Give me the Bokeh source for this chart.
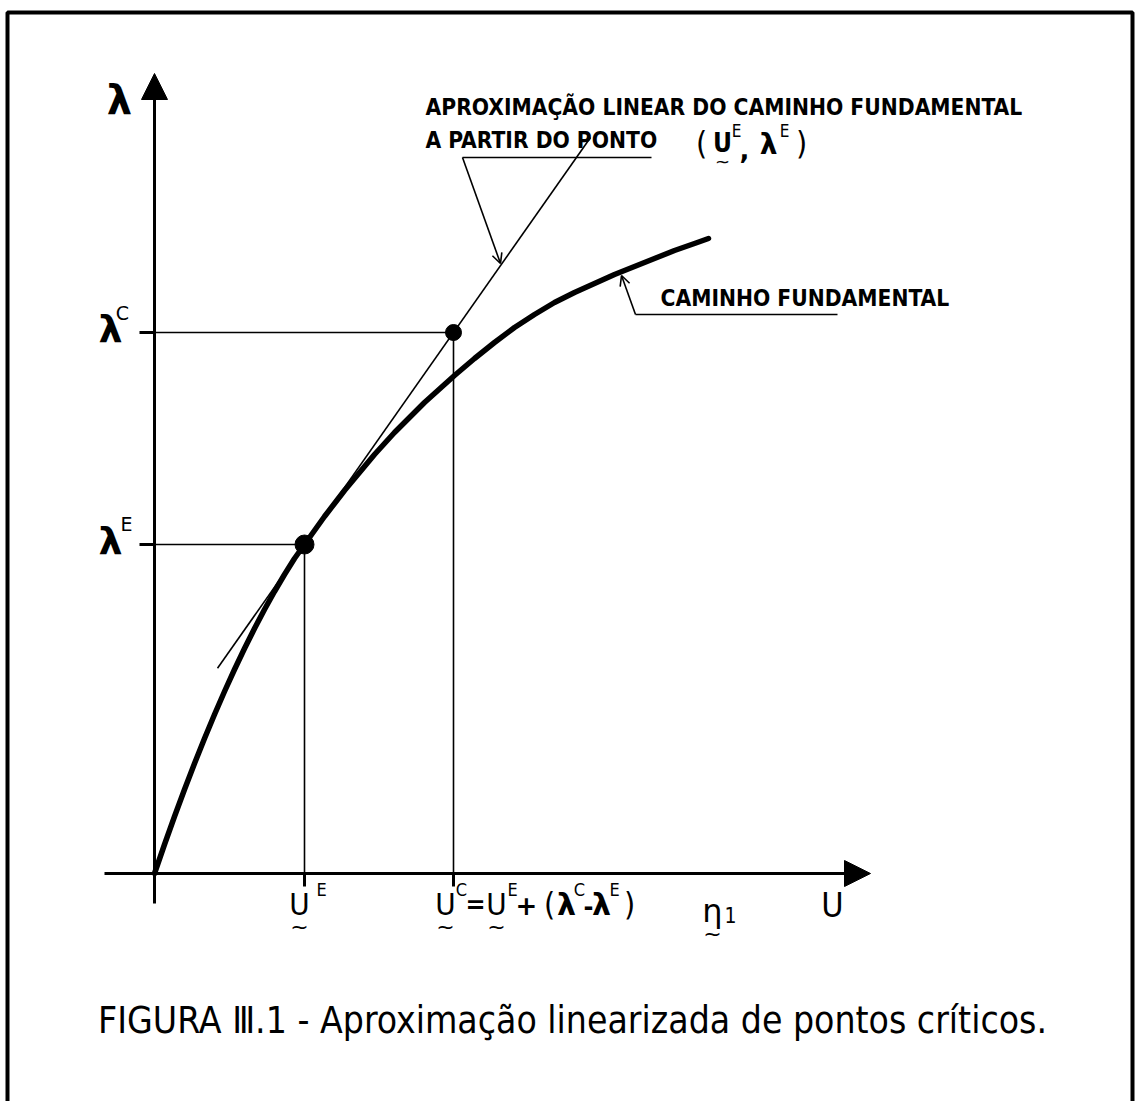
from bokeh.plotting import figure
from bokeh.models import Range1d, Arrow, NormalHead, OpenHead
from bokeh.core.properties import value
from bokeh.embed import file_html
from bokeh.resources import INLINE

# Fundamental equilibrium path, load factor lambda against displacement U
path_u = [0.00, 0.10, 0.20, 0.30, 0.40, 0.50, 0.60, 0.70, 0.80, 0.90, 1.00,
          1.10, 1.20, 1.30, 1.40, 1.50, 1.60, 1.70, 1.80, 1.90, 2.00, 2.10,
          2.20, 2.30, 2.40, 2.50, 2.60, 2.70, 2.80, 2.90, 3.00, 3.20, 3.40,
          3.60, 3.80, 4.00, 4.20, 4.40, 4.60, 4.80, 5.00, 5.20, 5.40, 5.54]
path_lam = [0.00, 0.29, 0.57, 0.84, 1.10, 1.35, 1.59, 1.82, 2.04, 2.25, 2.45,
            2.64, 2.82, 2.99, 3.15, 3.29, 3.43, 3.57, 3.70, 3.83, 3.95, 4.07,
            4.19, 4.30, 4.41, 4.51, 4.61, 4.71, 4.80, 4.89, 4.98, 5.15, 5.31,
            5.46, 5.59, 5.71, 5.81, 5.90, 5.99, 6.07, 6.15, 6.23, 6.30, 6.35]

# Reference point E on the path and the estimated critical point C
U_E, LAM_E = 1.50, 3.29
U_C, LAM_C = 2.99, 5.41

# Extent of the linear approximation (straight line through E and C)
tangent_u = [0.63, 4.36]

# Axis extents
u_axis = [-0.50, 7.16]
lam_axis = [-0.30, 8.00]

FONT = "DejaVu Sans"
COND = "DejaVu Sans Condensed"
INK = "black"

p = figure(width=1139, height=1101, x_range=Range1d(-1.54, 9.85),
           y_range=Range1d(-2.28, 8.73), output_backend="svg",
           toolbar_location=None, min_border=0)
p.axis.visible = False
p.grid.visible = False
p.outline_line_color = None
p.background_fill_color = "white"
p.border_fill_color = "white"

# outer frame (open at the bottom)
p.line([-1.47, -1.47, 9.78, 9.78], [-2.40, 8.61, 8.61, -2.40], line_color=INK, line_width=4)

# coordinate axes with arrow heads
p.add_layout(Arrow(end=NormalHead(size=26, fill_color=INK, line_color=INK),
                   x_start=0, y_start=lam_axis[0], x_end=0, y_end=lam_axis[1],
                   line_width=3, line_color=INK))
p.add_layout(Arrow(end=NormalHead(size=26, fill_color=INK, line_color=INK),
                   x_start=u_axis[0], y_start=0, x_end=u_axis[1], y_end=0,
                   line_width=3, line_color=INK))

# tick stubs on the axes
p.segment(x0=[-0.15, -0.15], y0=[LAM_C, LAM_E], x1=[0, 0], y1=[LAM_C, LAM_E],
          line_color=INK, line_width=3)
p.segment(x0=[U_E, U_C], y0=[0, 0], x1=[U_E, U_C], y1=[-0.13, -0.13],
          line_color=INK, line_width=3)

# projection lines
p.segment(x0=[0, 0], y0=[LAM_C, LAM_E], x1=[U_C, U_E], y1=[LAM_C, LAM_E],
          line_color=INK, line_width=1.6)
p.segment(x0=[U_C, U_E], y0=[LAM_C, LAM_E], x1=[U_C, U_E], y1=[0, 0],
          line_color=INK, line_width=1.6)

# linear approximation of the path from E
slope = (LAM_C - LAM_E) / (U_C - U_E)
tangent_lam = [LAM_E + slope * (u - U_E) for u in tangent_u]
p.line(tangent_u, tangent_lam, line_color=INK, line_width=1.6)

# fundamental path
p.line(path_u, path_lam, line_color=INK, line_width=5.5, line_cap="round", line_join="round")

# points E and C
p.scatter([U_E], [LAM_E], size=19, color=INK)
p.scatter([U_C], [LAM_C], size=16, color=INK)

# leader for the linear approximation note
p.segment(x0=[3.08], y0=[7.16], x1=[4.97], y1=[7.16], line_color=INK, line_width=1.6)
p.add_layout(Arrow(end=OpenHead(size=10, line_width=1.6, line_color=INK),
                   x_start=3.08, y_start=7.16, x_end=3.46, y_end=6.10,
                   line_width=1.6, line_color=INK))

# leader for the fundamental path note
p.segment(x0=[4.81], y0=[5.59], x1=[6.83], y1=[5.59], line_color=INK, line_width=1.6)
p.add_layout(Arrow(end=OpenHead(size=10, line_width=1.6, line_color=INK),
                   x_start=4.81, y_start=5.59, x_end=4.67, y_end=5.98,
                   line_width=1.6, line_color=INK))


def label(x, y, s, size, font=FONT, style="bold", align="center"):
    p.text(x=[x], y=[y], text=[s], text_font=value(font), text_font_size=f"{size}px",
           text_font_style=style, text_align=align, text_baseline="middle",
           text_color=INK)


# axis names
label(-0.35, 7.74, "λ", 40)
label(6.78, -0.31, "U", 34, font=COND, style="normal")

# lambda levels
label(-0.44, LAM_C + 0.04, "λ", 38)
label(-0.32, LAM_C + 0.20, "C", 19, style="normal")
label(-0.44, LAM_E + 0.04, "λ", 38)
label(-0.28, LAM_E + 0.21, "E", 19, style="normal")

# U^E under the axis
label(U_E - 0.05, -0.30, "U", 31, font=COND, style="normal")
label(U_E - 0.05, -0.53, "~", 22, style="normal")
label(U_E + 0.17, -0.16, "E", 18, font=COND, style="normal")

# U^C = U^E + (λ^C - λ^E) η1
label(U_C - 0.08, -0.30, "U", 31, font=COND, style="normal")
label(U_C - 0.08, -0.53, "~", 22, style="normal")
label(U_C + 0.08, -0.16, "C", 18, font=COND, style="normal")
label(U_C + 0.22, -0.31, "=", 24, style="bold")
label(U_C + 0.43, -0.30, "U", 31, font=COND, style="normal")
label(U_C + 0.43, -0.53, "~", 22, style="normal")
label(U_C + 0.59, -0.16, "E", 18, font=COND, style="normal")
label(U_C + 0.73, -0.31, "+", 26, style="bold")
label(U_C + 0.96, -0.30, "(", 32, font=COND, style="normal")
label(U_C + 1.13, -0.31, "λ", 30)
label(U_C + 1.26, -0.16, "C", 18, font=COND, style="normal")
label(U_C + 1.35, -0.32, "-", 24, style="bold")
label(U_C + 1.48, -0.31, "λ", 30)
label(U_C + 1.61, -0.16, "E", 18, font=COND, style="normal")
label(U_C + 1.76, -0.30, ")", 32, font=COND, style="normal")
label(U_C + 2.59, -0.37, "η", 32, style="normal")
label(U_C + 2.77, -0.41, "1", 21, font=COND, style="normal")
label(U_C + 2.59, -0.60, "~", 22, style="normal")

# notes
label(2.71, 7.67, "APROXIMAÇÃO LINEAR DO CAMINHO FUNDAMENTAL", 22.6, font=COND, align="left")
label(2.71, 7.34, "A PARTIR DO PONTO", 22.6, font=COND, align="left")
label(5.47, 7.31, "(", 32, font=COND, style="normal")
label(5.68, 7.31, "U", 26, font=COND)
label(5.68, 7.12, "~", 18, style="normal")
label(5.82, 7.43, "E", 17, font=COND, style="normal")
label(5.90, 7.25, ",", 26)
label(6.14, 7.29, "λ", 28)
label(6.30, 7.43, "E", 17, font=COND, style="normal")
label(6.47, 7.31, ")", 32, font=COND, style="normal")

label(5.06, 5.755, "CAMINHO FUNDAMENTAL", 22.6, font=COND, align="left")

# caption
label(4.18, -1.47, "FIGURA Ⅲ.1 - Aproximação linearizada de pontos críticos.", 37,
      font=COND, style="normal")

open("out.html", "w").write(file_html(p, INLINE))
